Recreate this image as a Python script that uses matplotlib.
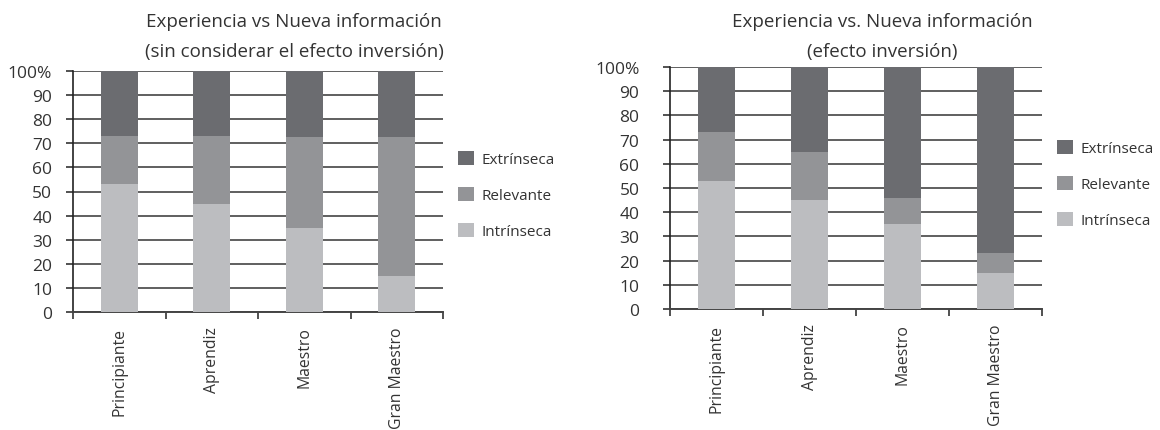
import numpy as np
import matplotlib.pyplot as plt

categorias = ["Principiante", "Aprendiz", "Maestro", "Gran Maestro"]
series = ["Intrínseca", "Relevante", "Extrínseca"]

# sin considerar el efecto inversion
izq_intrinseca = [53, 45, 35, 15]
izq_relevante = [20, 28, 37.5, 57.5]
izq_extrinseca = [27, 27, 27.5, 27.5]

# efecto inversion
der_intrinseca = [53, 45, 35, 15]
der_relevante = [20, 20, 11, 8]
der_extrinseca = [27, 35, 54, 77]

colores = ["#bcbdc0", "#939497", "#6b6c70"]
yticks = [0, 10, 20, 30, 40, 50, 60, 70, 80, 90, 100]
yticklabels = ["0", "10", "20", "30", "40", "50", "60", "70", "80", "90", "100%"]

plt.rcParams["font.family"] = ["Open Sans", "DejaVu Sans"]
texto = "#333333"


def barras(ax, valores, ypad):
    x = np.arange(len(categorias)) + 0.5
    base = np.zeros(len(categorias))
    for nombre, vals, c in zip(series, valores, colores):
        ax.bar(x, vals, width=0.4, bottom=base, color=c, label=nombre, zorder=3)
        base += np.array(vals)
    ax.set_xlim(0, len(categorias))
    ax.set_ylim(0, 100)
    ax.set_yticks(yticks)
    ax.set_yticklabels(yticklabels, color=texto, fontsize=12.5)
    ax.set_xticks(x)
    ax.set_xticklabels(categorias, rotation=90, color=texto, fontsize=11.3)
    ax.set_xticks(np.arange(len(categorias) + 1), minor=True)
    ax.tick_params(axis="x", which="major", length=0, pad=10.5)
    ax.tick_params(axis="x", which="minor", length=5, direction="out", color=texto, width=1.2)
    ax.tick_params(axis="y", length=5, color=texto, pad=ypad, width=1.2)
    ax.grid(axis="y", color="#444444", linewidth=1.2, zorder=0)
    for s in ["top", "right"]:
        ax.spines[s].set_visible(False)
    ax.spines["left"].set_color("#222222")
    ax.spines["bottom"].set_color("#444444")
    ax.spines["left"].set_linewidth(1.2)
    ax.spines["bottom"].set_linewidth(1.4)
    h, l = ax.get_legend_handles_labels()
    return h[::-1], l[::-1]


fig = plt.figure(figsize=(11.6, 4.31), dpi=100)
ax1 = fig.add_axes([73 / 1160, 1 - 313 / 431, 370 / 1160, 241 / 431])
ax2 = fig.add_axes([670 / 1160, 1 - 310 / 431, 372 / 1160, 242 / 431])

h, l = barras(ax1, [izq_intrinseca, izq_relevante, izq_extrinseca], 10)
ax1.legend(h, l, loc="center left", bbox_to_anchor=(1.0, 0.485), frameon=False,
           handlelength=1.0, handleheight=1.0, labelspacing=1.3, handletextpad=0.5,
           labelcolor=texto, fontsize=11, borderaxespad=0.6)
h, l = barras(ax2, [der_intrinseca, der_relevante, der_extrinseca], 17)
ax2.legend(h, l, loc="center left", bbox_to_anchor=(1.0, 0.515), frameon=False,
           handlelength=1.0, handleheight=1.0, labelspacing=1.3, handletextpad=0.5,
           labelcolor=texto, fontsize=11, borderaxespad=0.6)

fig.text(294 / 1160, 1 - 22 / 431, "Experiencia vs Nueva información", ha="center", va="center",
         fontsize=13.5, color=texto)
fig.text(294 / 1160, 1 - 52 / 431, "(sin considerar el efecto inversión)", ha="center", va="center",
         fontsize=13.5, color=texto)
fig.text(882 / 1160, 1 - 22 / 431, "Experiencia vs. Nueva información", ha="center", va="center",
         fontsize=13.5, color=texto)
fig.text(882 / 1160, 1 - 52 / 431, "(efecto inversión)", ha="center", va="center",
         fontsize=13.5, color=texto)

fig.savefig("out.png", dpi=100)
